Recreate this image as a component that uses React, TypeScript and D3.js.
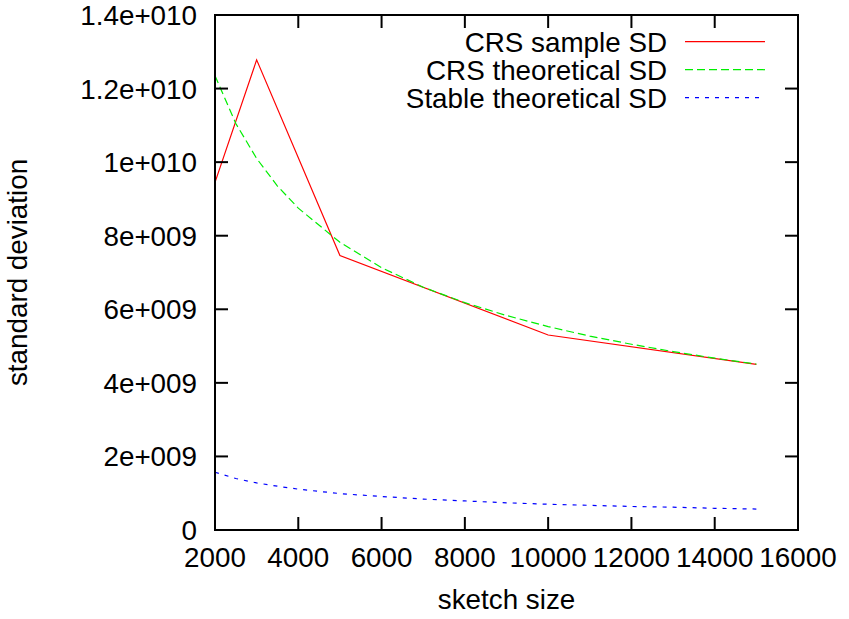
import { useMemo } from "react";
import * as d3 from "d3";

// sketch sizes where the sample SD was measured
const sampleSizes = [2000, 3000, 5000, 10000, 15000];
const crsSampleSD = [9.45e9, 12.78e9, 7.46e9, 5.3e9, 4.5e9];

// theoretical curves
const curveSizes = [2000, 2500, 3000, 3500, 4000, 5000, 6000, 7000, 8000, 9000, 10000, 11000, 12000, 13000, 14000, 15000];
const crsTheorySD = [12.35e9, 11.05e9, 10.1e9, 9.35e9, 8.75e9, 7.82e9, 7.13e9, 6.6e9, 6.18e9, 5.83e9, 5.53e9, 5.27e9, 5.05e9, 4.85e9, 4.67e9, 4.51e9];
const stableTheorySD = [1.57e9, 1.4e9, 1.28e9, 1.19e9, 1.11e9, 0.99e9, 0.91e9, 0.84e9, 0.79e9, 0.74e9, 0.7e9, 0.67e9, 0.64e9, 0.62e9, 0.59e9, 0.57e9];

const xTicks = [2000, 4000, 6000, 8000, 10000, 12000, 14000, 16000];
const yTicks = [0, 2e9, 4e9, 6e9, 8e9, 1e10, 1.2e10, 1.4e10];
const yTickLabels = ["0", "2e+009", "4e+009", "6e+009", "8e+009", "1e+010", "1.2e+010", "1.4e+010"];

const seriesNames = ["CRS sample SD", "CRS theoretical SD", "Stable theoretical SD"];

const W = 849;
const H = 619;
const FONT = "'Liberation Sans', Arial, Helvetica, sans-serif";
const FS = 27.8;
const TICK = 13;

export default function App() {
  const x = useMemo(() => d3.scaleLinear().domain([2000, 16000]).range([215, 798]), []);
  const y = useMemo(() => d3.scaleLinear().domain([0, 1.4e10]).range([530, 15]), []);

  const [x0, x1] = x.range();
  const [y0, y1] = y.range();

  const line = d3
    .line<[number, number]>()
    .x((d) => x(d[0]))
    .y((d) => y(d[1]));

  const sampleLine = line(sampleSizes.map((s, i) => [s, crsSampleSD[i]])) ?? "";
  const crsLine = line(curveSizes.map((s, i) => [s, crsTheorySD[i]])) ?? "";
  const stableLine = line(curveSizes.map((s, i) => [s, stableTheorySD[i]])) ?? "";

  const styles = [
    { stroke: "#ff0000", dash: undefined },
    { stroke: "#00ee00", dash: "8 4" },
    { stroke: "#0000ff", dash: "4 6" },
  ];
  const paths = [sampleLine, crsLine, stableLine];

  return (
    <div style={{ position: "absolute", left: 0, top: 0 }}>
      <svg width={W} height={H} style={{ display: "block", background: "#fff" }} fontFamily={FONT}>
        {/* data */}
        {paths.map((d, i) => (
          <path key={i} d={d} fill="none" stroke={styles[i].stroke} strokeWidth={1.2} strokeDasharray={styles[i].dash} />
        ))}

        {/* x ticks, bottom and mirrored top */}
        {xTicks.map((t) => (
          <g key={"x" + t}>
            <line x1={x(t)} x2={x(t)} y1={y0} y2={y0 - TICK} stroke="#000" strokeWidth={2} />
            <line x1={x(t)} x2={x(t)} y1={y1} y2={y1 + TICK} stroke="#000" strokeWidth={2} />
            <text x={x(t)} y={567} textAnchor="middle" fontSize={FS} fill="#000">
              {t}
            </text>
          </g>
        ))}

        {/* y ticks, left and mirrored right */}
        {yTicks.map((t, i) => (
          <g key={"y" + t}>
            <line x1={x0} x2={x0 + TICK} y1={y(t)} y2={y(t)} stroke="#000" strokeWidth={2} />
            <line x1={x1} x2={x1 - TICK} y1={y(t)} y2={y(t)} stroke="#000" strokeWidth={2} />
            <text x={197} y={y(t)} dy="0.36em" textAnchor="end" fontSize={FS} fill="#000">
              {yTickLabels[i]}
            </text>
          </g>
        ))}

        {/* border */}
        <rect x={x0} y={y1} width={x1 - x0} height={y0 - y1} fill="none" stroke="#000" strokeWidth={2} />

        {/* axis titles */}
        <text x={(x0 + x1) / 2} y={609} textAnchor="middle" fontSize={FS} fill="#000">
          sketch size
        </text>
        <text transform={`translate(27,${(y0 + y1) / 2}) rotate(-90)`} textAnchor="middle" fontSize={FS} fill="#000">
          standard deviation
        </text>

        {/* legend */}
        {seriesNames.map((name, i) => {
          const ly = 41.7 + i * 28;
          return (
            <g key={name}>
              <text x={667} y={ly} dy="0.36em" textAnchor="end" fontSize={FS} fill="#000">
                {name}
              </text>
              <line x1={685} x2={765} y1={ly} y2={ly} stroke={styles[i].stroke} strokeWidth={1.2} strokeDasharray={styles[i].dash} />
            </g>
          );
        })}
      </svg>
    </div>
  );
}
